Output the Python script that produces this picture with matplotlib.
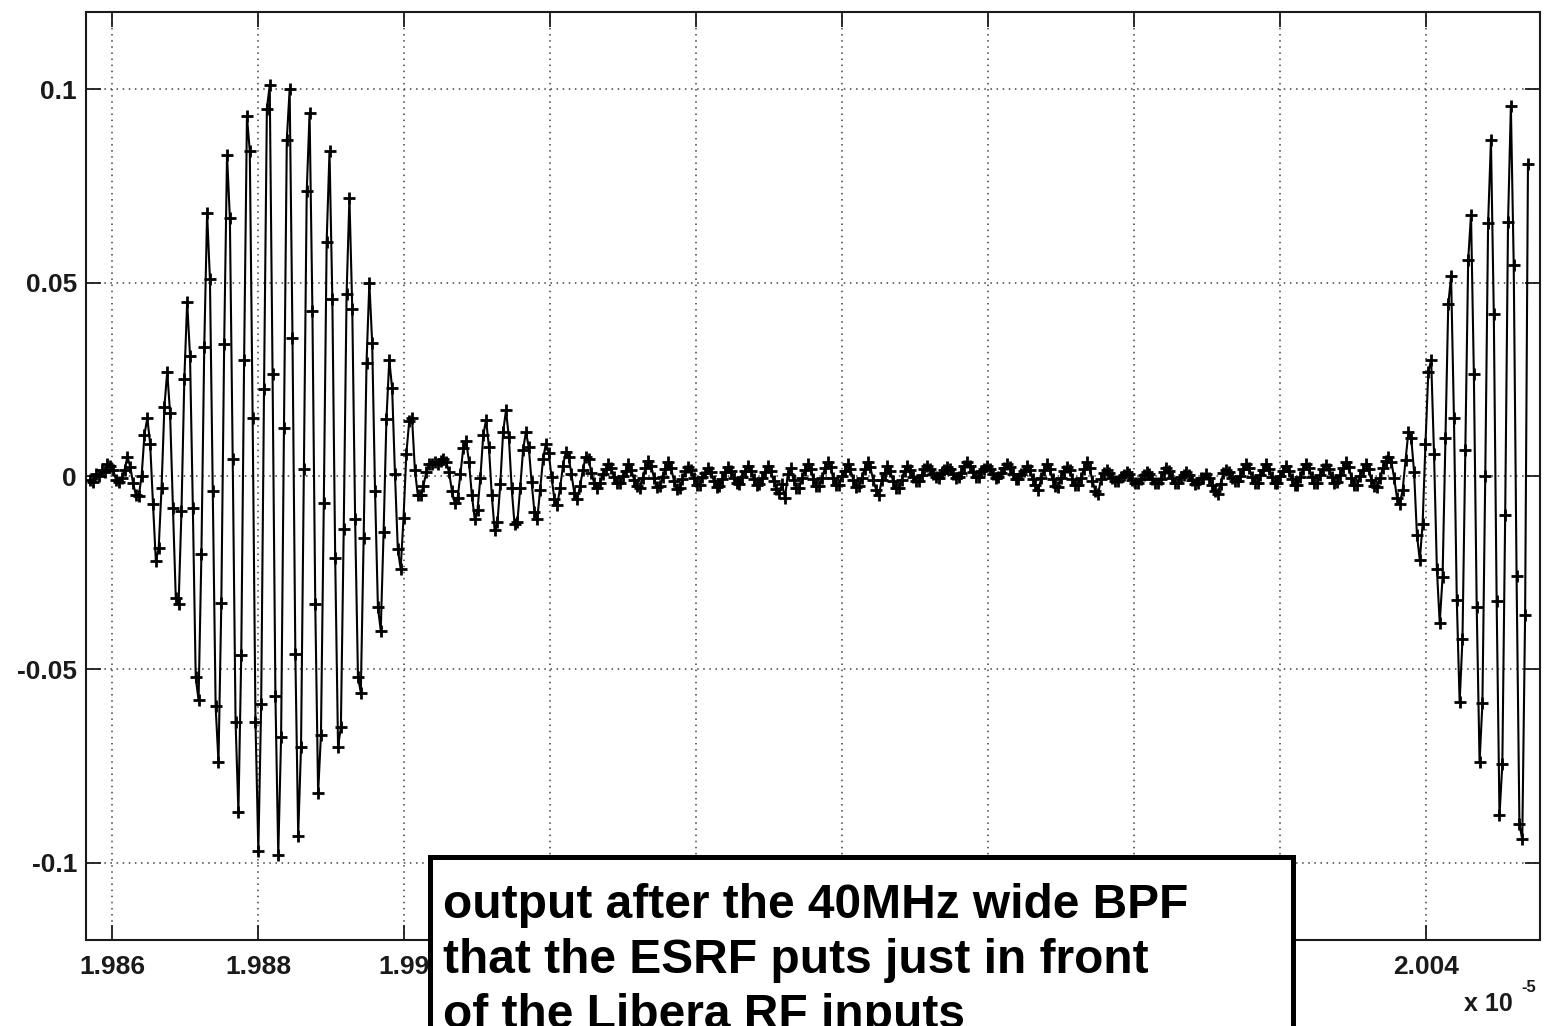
import numpy as np
import matplotlib
matplotlib.use("Agg")
import matplotlib.pyplot as plt
from matplotlib.patches import Rectangle

# ---------------- data (signal samples, units of 1e-4 V) ----------------
T0 = 1.98570      # first sample time, in units of 1e-5 s
DT = 0.000039     # sample spacing, in units of 1e-5 s

burst1 = [-10, -15, 5, 0, 15, 10, 30, 25, 15, -10,
          -15, -5, 15, 50, 24, -18, -50, -52, 0, 107,
          150, 83, -73, -220, -186, -30, 179, 270, 162, -82,
          -315, -330, -90, 250, 450, 311, -83, -520, -580, -203,
          333, 680, 509, -39, -596, -740, -328, 342, 830, 668,
          43, -635, -870, -463, 300, 930, 840, 150, -636, -970,
          -589, 226, 950, 1010, 264, -568, -980, -674, 123, 870,
          1000, 358, -460, -930, -700, 17, 736, 940, 427, -332,
          -820, -669, -70, 606, 840, 457, -212, -700, -650, -136,
          470, 720, 432, -111, -520, -560, -160, 291, 500, 343,
          -38, -338, -400, -146, 147, 300, 227, 5, -190, -240,
          -108, 58, 142, 150, 15, -48, -50, -25, 10, 30,
          30]

tail = [35, 30, 40, 45, 35, 10,
        -38, -70, -58, 6,
        73, 90, 37, -49, -110, -87, -4,
        105, 145, 76, -49, -140, -120, -20,
        115, 170, 101, -32, -125, -118, -30,
        68, 114, 74, -16, -94, -110, -35,
        43, 83, 60, -3, -60, -75, -31,
        25, 62, 49, 4, -44, -60, -27,
        16, 50, 44, 9, -19, -30, -19, 6]

quiet = [17, 30, 20, -3, -18, -17, 0,
         14, 31, 16, -10, -27, -30, -5,
         20, 38, 26, -5, -28, -27, -2,
         18, 36, 20, -12, -33, -30, -8,
         12, 24, 15, -6, -22, -24, -3,
         8, 20, 10, -12, -28, -27, -8,
         10, 22, 13, -4, -17, -20, -2,
         13, 26, 14, -8, -24, -21, -5,
         10, 25, 12, -12, -33, -45, -20,
         -58, 5, 20, -10, -30, -32, -5,
         15, 30, 18, -8, -27, -26, -6,
         20, 36, 22, -5, -22, -24, 0,
         14, 30, 17, -10, -28, -25, -4,
         18, 36, 22, -10, -35, -48, -10,
         8, 25, 12, -14, -32, -30, -10,
         14, 25, 16, -2, -14, -13, 3,
         17, 25, 18, 6, -3, -4, 8,
         16, 24, 19, 5, -4, -2, 9,
         25, 36, 27, 10, -3, -2, 12,
         18, 26, 17, 5, -4, -3, 7,
         20, 30, 22, 4, -9, -8, 6,
         12, 25, 15, -8, -24, -36, -6,
         15, 31, 18, -9, -27, -28, -5,
         13, 24, 15, -7, -22, -23, -4,
         18, 36, 20, -12, -38, -47, -8,
         8, 16, 9, -4, -14, -13, -2,
         3, 10, 4, -10, -18, -19, -7,
         2, 11, 5, -9, -19, -17, -8,
         10, 20, 12, -6, -18, -19, -3,
         3, 10, 3, -10, -20, -18, -6,
         -5, 5, -6, -22, -40, -47, -20,
         7, 15, 10, -4, -13, -14, -1,
         17, 30, 20, -2, -18, -17, 2,
         16, 31, 19, -3, -17, -18, 1,
         12, 26, 14, -7, -22, -23, -3,
         18, 30, 20, -2, -17, -19, 2,
         17, 29, 19, -3, -18, -16, 3,
         20, 36, 24, -4, -22, -24, 0,
         15, 30, 18, -10, -27, -28, -6,
         20, 40, 50]

burst2 = [37, -5, -57, -72, -35, 41, 114, 98, 10, -152,
          -218, -123, 84, 270, 300, 58, -240, -380, -262, 98,
          444, 516, 151, -321, -585, -421, 67, 559, 676, 263,
          -340, -740, -588, 0, 655, 868, 420, -323, -878, -745,
          -100, 656, 958, 545, -259, -900, -940, -360, 806]

xtick_vals = [1.986, 1.988, 1.990, 1.992, 1.994, 1.996, 1.998, 2.000, 2.002, 2.004]
# labels 1.992 ... 2.002 are hidden behind the annotation box in the reference
xtick_labels = ["1.986", "1.988", "1.99", "", "", "", "", "", "", "2.004"]
ytick_vals = [-0.1, -0.05, 0.0, 0.05, 0.1]
ytick_labels = ["-0.1", "-0.05", "0", "0.05", "0.1"]

note_lines = ["output after the 40MHz wide BPF",
              "that the ESRF puts just in front",
              "of the Libera RF inputs"]

# ---------------- figure ----------------
W, H = 1548, 1026
fig = plt.figure(figsize=(W / 100, H / 100), dpi=100)
ax = fig.add_axes([86 / W, 86 / H, 1454 / W, 928 / H])

vals = np.array(burst1 + tail + quiet + burst2, dtype=float) * 1e-4
t = T0 + DT * np.arange(len(vals))

ax.plot(t, vals, color="black", lw=1.5, marker="+", ms=8, mew=2.0, zorder=3)

ax.set_xlim(1.98564, 2.00556)
ax.set_ylim(-0.12, 0.12)
ax.set_xticks(xtick_vals)
ax.set_xticklabels(xtick_labels)
ax.set_yticks(ytick_vals)
ax.set_yticklabels(ytick_labels)

ax.set_axisbelow(True)
ax.grid(True, color="0.25", ls=(0, (1, 3)), lw=1.1)
for s in ax.spines.values():
    s.set_linewidth(1.5)
    s.set_color("0.1")

ax.tick_params(axis="both", direction="in", length=10.5, width=1.3,
               top=True, right=True, color="0.1")
ax.tick_params(axis="x", pad=11)
ax.tick_params(axis="y", pad=6.5)
for lab in ax.get_xticklabels() + ax.get_yticklabels():
    lab.set_fontfamily("Liberation Sans")
    lab.set_fontweight("bold")
    lab.set_fontsize(19)
    lab.set_color("0.1")

# exponent label
fig.text(1464 / W, 1 - 1004 / H, "x 10", fontsize=18, fontweight="bold",
         family="Liberation Sans", va="center", ha="left", color="0.1")
fig.text(1521 / W, 1 - 988 / H, "-5", fontsize=12, fontweight="bold",
         family="Liberation Sans", va="center", ha="left", color="0.1")

# annotation box
rect = Rectangle((430 / W, -0.1), (1293 - 430) / W, (1026 - 857) / H + 0.1,
                 transform=fig.transFigure, facecolor="white", edgecolor="black",
                 lw=3.6, zorder=10, clip_on=False)
fig.add_artist(rect)
baselines = [918, 973, 1028]
for line, b in zip(note_lines, baselines):
    fig.text(443 / W, 1 - b / H, line, fontsize=34.5, fontweight="bold",
             family="Liberation Sans", va="baseline", ha="left", zorder=11)

fig.savefig("out.png", dpi=100)
